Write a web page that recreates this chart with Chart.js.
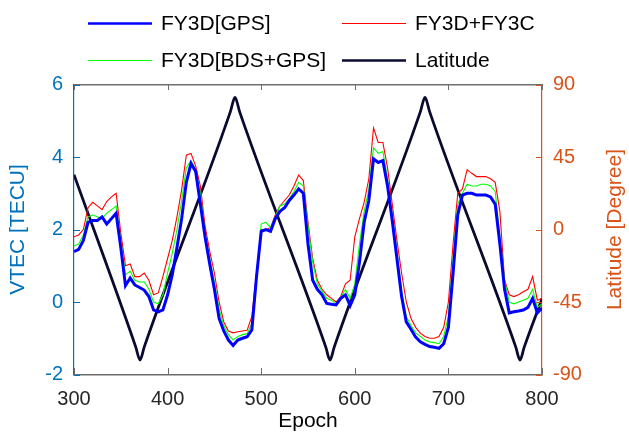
<!DOCTYPE html>
<html>
<head>
<meta charset="utf-8">
<script src="https://cdn.jsdelivr.net/npm/chart.js@4"></script>
<style>
  body { margin: 0; background: #fff; }
  #wrap { width: 629px; height: 434px; }
</style>
</head>
<body>
<div id="wrap"><canvas id="chart" width="629" height="434"></canvas></div>
<script>
// epochs for the VTEC series (every 5 epochs from 300 to 800)
const epochs = Array.from({ length: 101 }, (_, i) => 300 + i * 5);

const vtecGPS = [
  1.39, 1.45, 1.7, 2.2, 2.25, 2.25, 2.35, 2.15, 2.3, 2.45,
  1.5, 0.45, 0.66, 0.47, 0.4, 0.33, 0.15, -0.22, -0.27, -0.22,
  0.2, 0.75, 1.5, 2.3, 3.3, 3.82, 3.6, 2.7, 1.8, 1.05,
  0.35, -0.45, -0.8, -1.05, -1.2, -1.05, -1.0, -0.96, -0.77, 0.7,
  1.95, 2.0, 1.95, 2.3, 2.5, 2.6, 2.8, 2.95, 3.12, 3.0,
  1.6, 0.6, 0.35, 0.2, -0.04, -0.06, -0.08, 0.1, 0.2, -0.1,
  0.2, 1.1, 2.2, 2.8, 3.95, 3.85, 3.9, 3.2, 2.25, 1.2,
  0.15, -0.55, -0.75, -0.97, -1.1, -1.17, -1.23, -1.25, -1.28, -1.15,
  -0.7, 0.8, 2.4, 2.95, 3.0, 3.0, 2.95, 2.95, 2.95, 2.9,
  2.7, 1.6, 0.35, -0.3, -0.27, -0.25, -0.22, -0.15, 0.1, -0.3,
  -0.17
];

const vtecBdsGps = [
  1.55, 1.6, 1.85, 2.35, 2.4, 2.35, 2.3, 2.45, 2.55, 2.65,
  1.7, 0.75, 0.85, 0.6, 0.55, 0.55, 0.35, 0.0, -0.05, 0.2,
  0.8, 1.35, 2.0, 2.8, 3.7, 3.9, 3.65, 3.0, 1.9, 1.2,
  0.55, -0.2, -0.65, -0.9, -1.05, -0.95, -0.9, -0.87, -0.6, 0.6,
  2.15, 2.2, 2.05, 2.35, 2.65, 2.7, 2.85, 3.05, 3.3, 3.2,
  2.1, 1.1, 0.5, 0.3, 0.1, 0.05, -0.05, 0.12, 0.35, 0.1,
  0.5, 1.6, 2.5, 3.1, 4.25, 4.1, 4.15, 3.4, 2.4, 1.4,
  0.3, -0.4, -0.65, -0.85, -0.95, -1.05, -1.1, -1.12, -1.15, -0.95,
  -0.4, 1.2, 2.7, 3.0, 3.25, 3.2, 3.2, 3.25, 3.25, 3.2,
  3.05, 1.8, 0.6, 0.0, -0.05, 0.0, 0.05, 0.1, 0.35, -0.15,
  -0.05
];

const vtecFY3C = [
  1.8, 1.85, 2.0, 2.6, 2.75, 2.65, 2.55, 2.77, 2.9, 3.0,
  1.9, 1.0, 1.05, 0.7, 0.7, 0.8, 0.6, 0.2, 0.25, 0.7,
  1.2, 1.7, 2.35, 3.1, 4.05, 4.1, 3.75, 3.2, 2.1, 1.4,
  0.8, 0.0, -0.55, -0.8, -0.85, -0.82, -0.8, -0.78, -0.4, 0.8,
  2.0, 2.0, 2.05, 2.4, 2.65, 2.8, 2.95, 3.2, 3.5, 3.35,
  2.2, 1.2, 0.6, 0.35, 0.2, 0.1, 0.0, 0.15, 0.5, 0.6,
  1.8, 2.3, 2.75, 3.4, 4.8, 4.4, 4.4, 3.7, 2.7, 1.7,
  0.8, 0.0, -0.45, -0.7, -0.86, -0.95, -1.0, -1.0, -0.95, -0.7,
  0.0, 1.6, 3.0, 3.12, 3.65, 3.55, 3.46, 3.46, 3.46, 3.4,
  3.3, 2.5, 0.6, 0.2, 0.15, 0.2, 0.28, 0.35, 0.7, 0.05,
  0.1
];

// sub-satellite latitude, turning points of the orbit
const latEpochs = [300, 366, 370.5, 375, 467, 472, 477, 569, 573.5, 578, 670, 675, 680, 772, 776.5, 781, 800];
const latValues = [34, -73, -81, -73, 73, 82, 73, -73, -81, -73, 73, 82, 73, -73, -81, -73, -43];

const xTicks = [300, 400, 500, 600, 700, 800];
const vtecTicks = [-2, 0, 2, 4, 6];
const latTicks = [-90, -45, 0, 45, 90];

const BLUE_AX = 'rgb(0,114,189)';
const ORANGE_AX = 'rgb(217,83,25)';
const GRAY_AX = '#6e6e6e';
const FONT = "'Liberation Sans', Arial, sans-serif";

const toXY = (xs, ys) => ys.map((y, i) => ({ x: xs[i], y: y }));

// inward ticks, top frame line and the right axis title (reads upwards like matlab)
const framePlugin = {
  id: 'frame',
  afterDraw(chart) {
    const { ctx, chartArea: a, scales } = chart;
    const len = 6;
    const top = Math.floor(a.top);
    const bottom = Math.floor(a.bottom);
    ctx.save();
    ctx.fillStyle = GRAY_AX;
    ctx.fillRect(a.left, top, a.right - a.left, 1.5);
    xTicks.forEach(v => {
      const px = Math.round(scales.x.getPixelForValue(v));
      ctx.fillRect(px, bottom - len, 1, len);
      ctx.fillRect(px, top, 1, len);
    });
    ctx.fillStyle = BLUE_AX;
    vtecTicks.forEach(v => {
      const py = Math.round(scales.y.getPixelForValue(v));
      ctx.fillRect(a.left, py, len, 1);
    });
    ctx.fillStyle = ORANGE_AX;
    latTicks.forEach(v => {
      const py = Math.round(scales.y1.getPixelForValue(v));
      ctx.fillRect(a.right - len, py, len, 1);
    });

    ctx.translate(615, (a.top + a.bottom) / 2);
    ctx.rotate(-Math.PI / 2);
    ctx.font = '21px ' + FONT;
    ctx.fillStyle = ORANGE_AX;
    ctx.textAlign = 'center';
    ctx.textBaseline = 'middle';
    ctx.fillText('Latitude [Degree]', 0, 0);
    ctx.restore();
  }
};

// two column legend above the axes
const legendPlugin = {
  id: 'legend2col',
  afterDraw(chart) {
    const { ctx } = chart;
    const ds = chart.data.datasets;
    // legend order: GPS, FY3C / BDS+GPS, Latitude
    const items = [
      { d: ds[0], col: 0, row: 0, w: 2.5 },
      { d: ds[2], col: 1, row: 0, w: 1.2 },
      { d: ds[1], col: 0, row: 1, w: 1.2 },
      { d: ds[3], col: 1, row: 1, w: 2.5 }
    ];
    const colX = [88, 342];
    const rowY = [23.5, 60.5];
    ctx.save();
    ctx.font = '21px ' + FONT;
    ctx.textBaseline = 'middle';
    ctx.fillStyle = '#000';
    items.forEach(it => {
      const x = colX[it.col], y = rowY[it.row];
      ctx.strokeStyle = it.d.borderColor;
      ctx.lineWidth = it.w;
      ctx.beginPath();
      ctx.moveTo(x, y);
      ctx.lineTo(x + 64, y);
      ctx.stroke();
      ctx.fillText(it.d.label, x + 73, y + 1);
    });
    ctx.restore();
  }
};

const ctx = document.getElementById('chart').getContext('2d');
new Chart(ctx, {
  type: 'line',
  data: {
    datasets: [
      { label: 'FY3D[GPS]', data: toXY(epochs, vtecGPS), borderColor: '#0000ff', borderWidth: 3, yAxisID: 'y' },
      { label: 'FY3D[BDS+GPS]', data: toXY(epochs, vtecBdsGps), borderColor: '#00ff00', borderWidth: 1.1, yAxisID: 'y' },
      { label: 'FY3D+FY3C', data: toXY(epochs, vtecFY3C), borderColor: '#ff0000', borderWidth: 1.1, yAxisID: 'y' },
      { label: 'Latitude', data: toXY(latEpochs, latValues), borderColor: '#0a0a30', borderWidth: 2.8, yAxisID: 'y1', cubicInterpolationMode: 'monotone' }
    ]
  },
  options: {
    responsive: false,
    animation: false,
    layout: { padding: { top: 84.5, left: 0, right: 0, bottom: 0 } },
    elements: { point: { radius: 0 }, line: { tension: 0 } },
    plugins: { legend: { display: false }, tooltip: { enabled: false } },
    scales: {
      x: {
        type: 'linear', min: 300, max: 800,
        afterBuildTicks: s => { s.ticks = xTicks.map(v => ({ value: v })); },
        afterFit: s => { s.height = 59.5; },
        grid: { drawOnChartArea: false, drawTicks: false },
        border: { color: GRAY_AX, width: 1.5 },
        ticks: { color: '#262626', font: { family: FONT, size: 20 }, padding: 13, maxRotation: 0 },
        title: { display: true, text: 'Epoch', color: '#000', font: { family: FONT, size: 21 }, padding: { top: 0, bottom: 0 } }
      },
      y: {
        position: 'left', min: -2, max: 6,
        afterBuildTicks: s => { s.ticks = vtecTicks.map(v => ({ value: v })); },
        afterFit: s => { s.width = 74; },
        grid: { drawOnChartArea: false, drawTicks: false },
        border: { color: BLUE_AX, width: 1.2 },
        ticks: { color: BLUE_AX, font: { family: FONT, size: 20 }, padding: 11 },
        title: { display: true, text: 'VTEC [TECU]', color: BLUE_AX, font: { family: FONT, size: 21 }, padding: { top: 6, bottom: 0 } }
      },
      y1: {
        position: 'right', min: -90, max: 90,
        afterBuildTicks: s => { s.ticks = latTicks.map(v => ({ value: v })); },
        afterFit: s => { s.width = 87; },
        grid: { drawOnChartArea: false, drawTicks: false },
        border: { color: ORANGE_AX, width: 1.2 },
        ticks: { color: ORANGE_AX, font: { family: FONT, size: 20 }, padding: 11 },
        title: { display: false }
      }
    }
  },
  plugins: [framePlugin, legendPlugin]
});
</script>
</body>
</html>
